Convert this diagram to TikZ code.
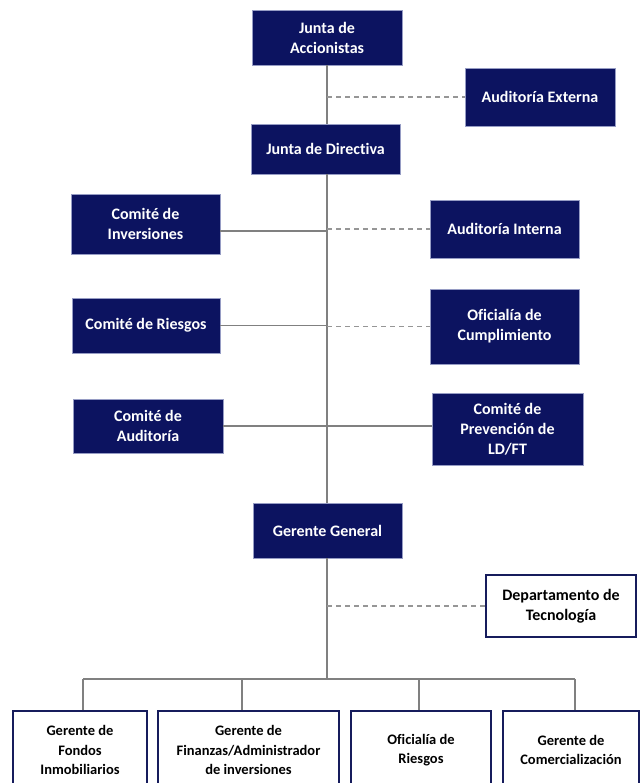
\documentclass[tikz,border=0pt]{standalone}
\usepackage{fontspec}
\setmainfont{Carlito}[Ligatures=NoCommon]
\definecolor{navy}{RGB}{12,19,96}
\definecolor{navyedge}{RGB}{150,156,196}
\definecolor{boxedge}{RGB}{22,28,92}
\definecolor{conn}{RGB}{128,128,128}
\definecolor{dconn}{RGB}{150,150,150}
\begin{document}
\begin{tikzpicture}[x=1pt,y=-1pt,
  every node/.style={font=\fontsize{16}{20}\selectfont\bfseries, align=center, inner sep=0pt},
  navybox/.style={rectangle, fill=navy, draw=navyedge, line width=0.6pt, text=white},
  whitebox/.style={rectangle, fill=white, draw=boxedge, line width=2.6pt, text=black},
  lowbox/.style={whitebox, font=\fontsize{14.5}{19.5}\selectfont\bfseries},
  solidline/.style={draw=conn, line width=1.3pt},
  dashline/.style={draw=dconn, line width=1.2pt, dash pattern=on 5pt off 4pt}]
\useasboundingbox (0,0) rectangle (642,783);
\clip (0,0) rectangle (642,783);
\fill[white] (0,0) rectangle (642,783);

% nodes
\node[navybox, minimum width=150pt, minimum height=55pt] (ja) at (327,37.5) {Junta de\\Accionistas};
\node[navybox, minimum width=150pt, minimum height=58pt] (ae) at (540,97) {Auditoría Externa};
\node[navybox, minimum width=149pt, minimum height=50pt] (jd) at (325.5,149) {Junta de Directiva};
\node[navybox, minimum width=149pt, minimum height=60pt] (ci) at (145.5,224) {Comité de\\Inversiones};
\node[navybox, minimum width=149pt, minimum height=58pt] (ai) at (504.5,229) {Auditoría Interna};
\node[navybox, minimum width=148pt, minimum height=55pt] (cr) at (146,325.5) {Comité de Riesgos};
\node[navybox, minimum width=149pt, minimum height=75pt] (oc) at (504.5,326.5) {Oficialía de\\Cumplimiento};
\node[navybox, minimum width=150pt, minimum height=54pt] (ca) at (148,426) {Comité de\\Auditoría};
\node[navybox, minimum width=151pt, minimum height=72pt] (cp) at (507.5,429) {Comité de\\Prevención de\\LD/FT};
\node[navybox, minimum width=149pt, minimum height=55pt] (gg) at (327.5,530.5) {Gerente General};
\node[whitebox, minimum width=150pt, minimum height=62pt] (dt) at (561,606) {Departamento de\\Tecnología};
\node[lowbox, minimum width=134pt, minimum height=78pt] (b1) at (80,750) {Gerente de\\Fondos\\Inmobiliarios};
\node[lowbox, minimum width=181pt, minimum height=78pt] (b2) at (248.5,750) {Gerente de\\Finanzas/Administrador\\de inversiones};
\node[lowbox, minimum width=140pt, minimum height=78pt] (b3) at (421,750) {Oficialía de\\Riesgos};
\node[lowbox, minimum width=136pt, minimum height=78pt] (b4) at (571,750) {Gerente de\\Comercialización};

% trunk coordinates
\coordinate (t1) at (327,65);
\coordinate (t2) at (327,124);
\coordinate (t3) at (327,174);
\coordinate (t4) at (327,503);
\coordinate (t5) at (327,558);
\coordinate (br) at (327,679);

% trunk
\draw[solidline] (t1) -- (t2);
\draw[solidline] (t3) -- (t4);
\draw[solidline] (t5) -- (br);

% dashed staff links
\draw[dashline] (t1 |- ae.west) -- (ae.west);
\draw[dashline] (t1 |- ai.west) -- (ai.west);
\draw[dashline] (t1 |- oc.west) -- (oc.west);
\draw[dashline] (t1 |- dt.west) -- (dt.west);

% solid committee links
\draw[solidline] (ci.east |- 0,231) -- (t1 |- 0,231);
\draw[solidline] (cr.east) -- (t1 |- cr.east);
\draw[solidline] (ca.east) -- (ca.east -| cp.west);

% branch to bottom boxes
\coordinate (d1) at (83,679);
\coordinate (d2) at (242,679);
\coordinate (d3) at (419,679);
\coordinate (d4) at (575,679);
\draw[solidline] (d1) -- (d4);
\draw[solidline] (d1) -- (d1 |- b1.north);
\draw[solidline] (d2) -- (d2 |- b2.north);
\draw[solidline] (d3) -- (d3 |- b3.north);
\draw[solidline] (d4) -- (d4 |- b4.north);
\end{tikzpicture}
\end{document}
